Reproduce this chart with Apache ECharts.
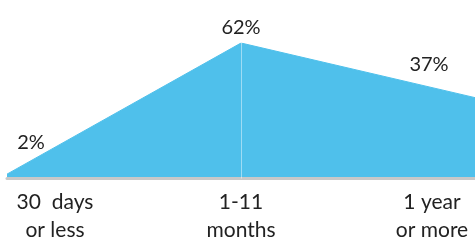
<!DOCTYPE html>
<html lang="en">
<head>
    <meta charset="UTF-8">
    <title>Duration</title>
    <script src="https://cdn.jsdelivr.net/npm/echarts@6/dist/echarts.min.js"></script>
    <style>
        html, body { margin: 0; padding: 0; background: #fff; }
        #main { width: 475px; height: 240px; }
    </style>
</head>
<body>
    <div id="main"></div>
    <script>
        var categories = ['30  days\nor less', '1-11\nmonths', '1 year\nor more'];
        var values = [2, 62, 37];
        var valueLabels = ['2%', '62%', '37%'];

        // label offsets per point, to sit the labels like the original
        var labelOffsets = [[24, -17], [0, 0], [-46, -18]];

        var myChart = echarts.init(document.getElementById('main'));

        var axisData = categories.map(function (c, i) {
            var item = { value: c };
            if (i === 0) item.textStyle = { padding: [0, 0, 0, 96] };
            if (i === categories.length - 1) item.textStyle = { padding: [0, 86, 0, 0] };
            return item;
        });

        var seriesData = values.map(function (v, i) {
            return {
                value: v,
                label: {
                    formatter: valueLabels[i],
                    offset: labelOffsets[i]
                }
            };
        });

        var option = {
            animation: false,
            grid: {
                left: 7, right: 0, top: 43, bottom: 61.5,
                containLabel: false,
                outerBoundsMode: 'none'
            },
            xAxis: {
                type: 'category',
                data: axisData,
                boundaryGap: false,
                z: 3,
                axisTick: { show: false },
                axisLine: { lineStyle: { color: '#c8c8c8', width: 3 } },
                axisLabel: {
                    interval: 0,
                    margin: 10,
                    color: '#222',
                    fontFamily: 'Lato',
                    fontSize: 21,
                    lineHeight: 28,
                    hideOverlap: false
                },
                splitLine: { show: false }
            },
            yAxis: {
                type: 'value',
                min: 0,
                max: 62,
                show: false
            },
            series: [{
                type: 'line',
                data: seriesData,
                symbol: 'circle',
                symbolSize: 0,
                lineStyle: { color: '#4fc0eb', width: 1 },
                areaStyle: { color: '#4fc0eb', opacity: 1 },
                label: {
                    show: true,
                    position: 'top',
                    distance: 5,
                    color: '#222',
                    fontFamily: 'Lato',
                    fontSize: 20
                },
                markLine: {
                    silent: true,
                    symbol: 'none',
                    label: { show: false },
                    lineStyle: { color: 'rgba(255,255,255,0.45)', width: 1, type: 'solid' },
                    data: [{ xAxis: 1 }]
                }
            }]
        };

        myChart.setOption(option);
    </script>
</body>
</html>
